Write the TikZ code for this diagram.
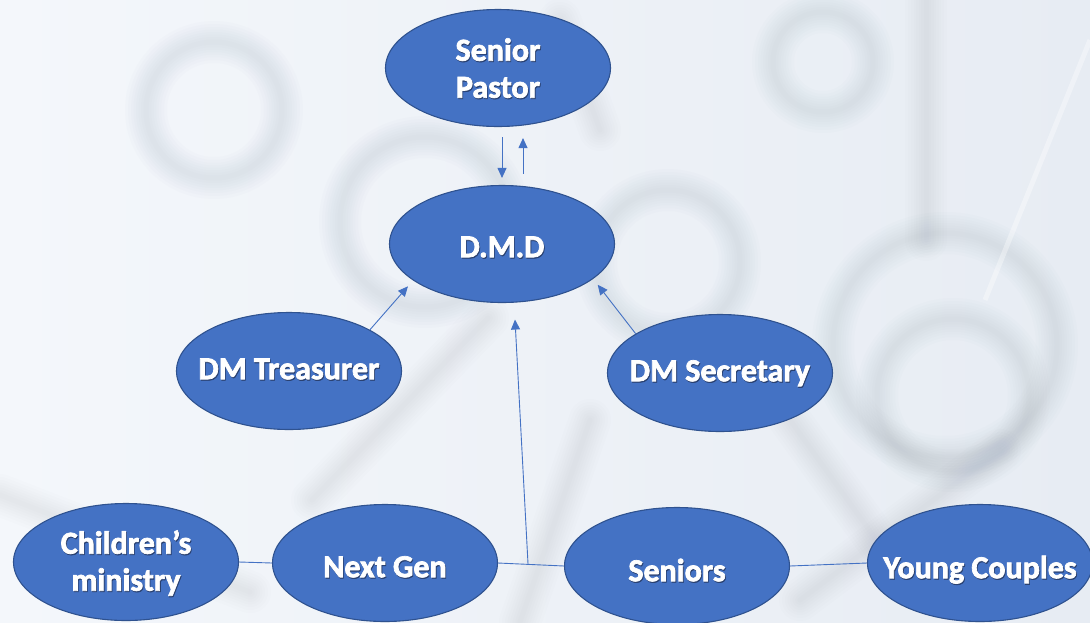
\documentclass[tikz,border=0pt]{standalone}
\usepackage{fontspec}
\setmainfont{Carlito}
\newfontfamily\nodefont{Carlito Bold}[FakeBold=2.2]
\usetikzlibrary{shapes.geometric,arrows.meta,calc}
\definecolor{nodeblue}{HTML}{4472C4}
\definecolor{nodeedge}{HTML}{2F528F}
\definecolor{shadowc}{HTML}{2A4170}
\definecolor{bgleft}{HTML}{F4F7FB}
\definecolor{bgright}{HTML}{E7ECF3}
\definecolor{molgray}{HTML}{8E9AAE}
\newcommand{\rtab}[1]{\begin{tabular}{@{}c@{}}#1\end{tabular}}
\newcommand{\rtext}[2][12pt]{\raisebox{-#1}[0pt][0pt]{%
  \makebox[0pt][c]{\hspace{1.6pt}\raisebox{-1.2pt}{\color{shadowc}\rtab{#2}}}%
  \makebox[0pt][c]{\rtab{#2}}}}
\begin{document}
\begin{tikzpicture}[x=1pt,y=-1pt,
  role/.style={ellipse, fill=nodeblue, draw=nodeedge, line width=1.1pt,
    inner sep=0pt, minimum width=225pt, minimum height=117pt,
    text=white, font=\nodefont\fontsize{32}{37}\selectfont},
  link/.style={draw=nodeblue, line width=0.9pt},
  arr/.style={link, -{Triangle[length=10pt,width=9pt]}},
  softring/.style={draw=molgray, line width=#1, opacity=0.022},
  softband/.style={draw=molgray, line width=#1, opacity=0.02, line cap=round}]
% background
\useasboundingbox (0,0) rectangle (1090,622);
\shade[left color=bgleft, right color=bgright] (0,0) rectangle (1090,622);
% faint molecule shapes
\foreach \w in {42,36,30,25,20,15,10,5}{
  \draw[softring=\w] (214,110) circle (68);
  \draw[softring=\w] (425,222) circle (85);
  \draw[softring=\w] (668,262) circle (72);
  \draw[softring=\w] (945,345) circle (112);
  \draw[softring=\w] (953,395) circle (76);
  \draw[softring=\w] (823,62) circle (50);
  \draw[softband=\w] (0,495) -- (250,592);
  \draw[softband=\w] (488,318) -- (312,500);
  \draw[softband=\w] (590,420) -- (520,622);
  \draw[softband=\w] (790,420) -- (880,545);
  \draw[softband=\w] (1000,450) -- (800,600);
  \draw[softband=\w] (600,130) -- (560,20);
  \draw[softband=\w] (926,0) -- (926,240);
}
\draw[white, line width=5pt, opacity=0.35] (1090,40) -- (985,300);
% nodes
\node[role] (SP) at (498,68) {\rtext[10pt]{Senior\\Pastor}};
\node[role] (DMD) at (502,244) {\rtext[12pt]{D.M.D}};
\node[role] (TR) at (289,371) {\rtext[7pt]{DM Treasurer}};
\node[role] (SEC) at (720,373) {\rtext[7pt]{DM Secretary}};
\node[role] (CH) at (126,562) {\rtext[9pt]{Children’s\\ministry}};
\node[role] (NG) at (385,563) {\rtext[13pt]{Next Gen}};
\node[role] (SN) at (677,566) {\rtext[14pt]{Seniors}};
\node[role] (YC) at (980,563) {\rtext[14pt]{Young Couples}};
% connectors
\coordinate (spd1) at ([xshift=4pt,yshift=-10pt]SP.south);
\coordinate (spd2) at ([xshift=0pt,yshift=7pt]DMD.north);
\coordinate (spu1) at ([xshift=21pt,yshift=11pt]DMD.north);
\coordinate (spu2) at ([xshift=25pt,yshift=-11pt]SP.south);
\draw[arr] (spd1) -- (spd2);
\draw[arr] (spu1) -- (spu2);
\draw[arr] (TR.27.4) -- ([shift={(-8pt,-4pt)}]DMD.204.8);
\draw[arr] (SEC.155.3) -- ([shift={(8pt,-3.5pt)}]DMD.337.4);
\draw[link] (CH.east) -- (NG.west);
\draw[link] (NG.east) -- (SN.west);
\draw[link] (SN.east) -- (YC.west);
\coordinate (junc) at ($(NG.east)!0.455!(SN.west)$);
\coordinate (tipc) at ([shift={(13pt,-16.5pt)}]DMD.south);
\draw[arr] (junc) -- (tipc);
\end{tikzpicture}
\end{document}
